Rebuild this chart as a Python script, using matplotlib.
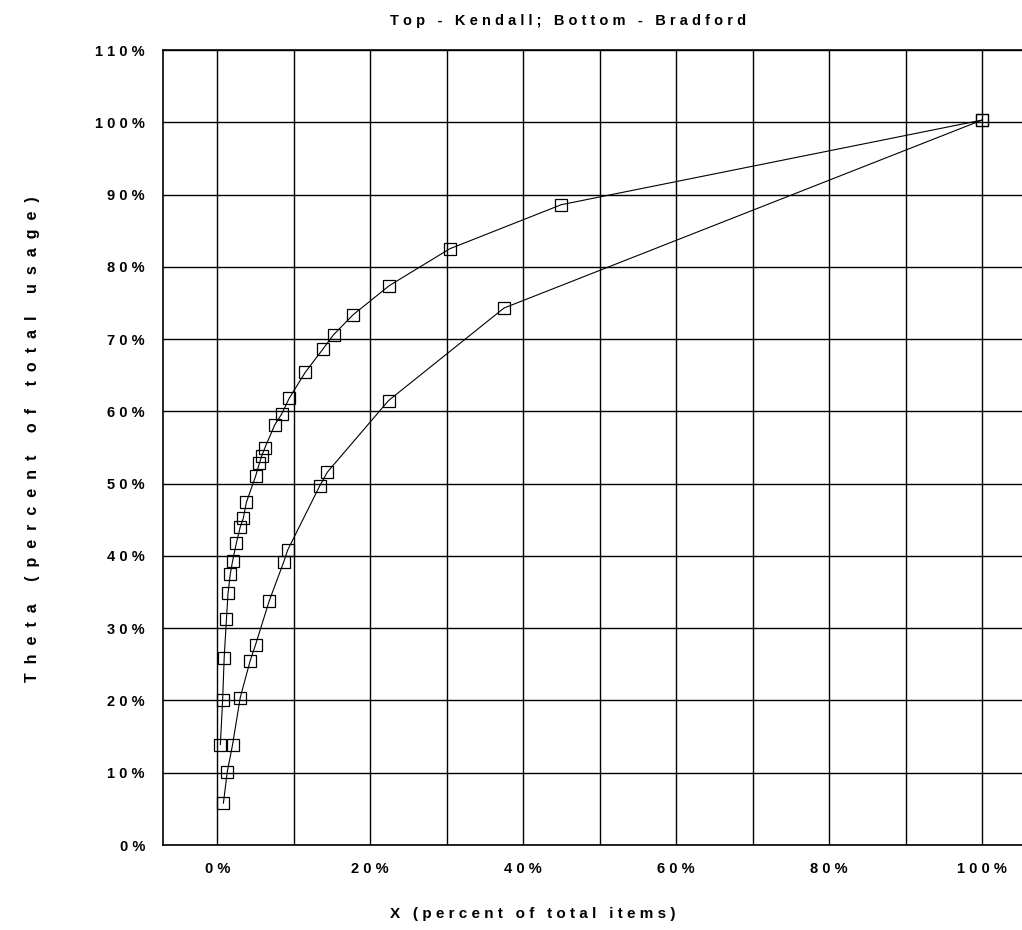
import matplotlib
matplotlib.use("Agg")
import matplotlib.pyplot as plt
from matplotlib import font_manager
import numpy as np

# cumulative share of items vs share of usage, in percent
kendall_x = [0.4, 0.7, 0.9, 1.2, 1.4, 1.7, 2.0, 2.5, 3.0, 3.4, 3.8, 5.0, 5.5, 5.8,
             6.2, 7.5, 8.4, 9.4, 11.5, 13.8, 15.2, 17.8, 22.5, 30.4, 45.0, 100.0]
kendall_y = [13.9, 20.1, 25.9, 31.3, 34.8, 37.5, 39.3, 41.8, 44.0, 45.2, 47.4, 51.0, 52.8, 53.8,
             54.9, 58.1, 59.6, 61.8, 65.4, 68.6, 70.6, 73.4, 77.4, 82.5, 88.6, 100.3]

bradford_x = [0.8, 1.3, 2.0, 3.0, 4.3, 5.0, 6.8, 8.7, 9.2, 13.4, 14.4, 22.4, 37.5, 100.0]
bradford_y = [5.8, 10.1, 13.9, 20.4, 25.5, 27.7, 33.8, 39.2, 40.8, 49.7, 51.6, 61.5, 74.3, 100.3]

x_ticks = np.arange(0, 101, 10)
x_labels = ["0%", "", "20%", "", "40%", "", "60%", "", "80%", "", "100%"]
y_ticks = np.arange(0, 111, 10)
y_labels = [f"{v}%" for v in y_ticks]

title = "Top - Kendall; Bottom - Bradford"
xlabel = "X (percent of total items)"
ylabel = "Theta (percent of total usage)"


def spaced(s, gap=" "):
    # wide letter spacing, like the old plotter font
    return gap.join(s)


names = {f.name for f in font_manager.fontManager.ttflist}
family = ["Liberation Sans Narrow", "DejaVu Sans"] if "Liberation Sans Narrow" in names \
    else ["Liberation Sans", "DejaVu Sans"]
plt.rcParams["font.family"] = family
plt.rcParams["font.weight"] = "bold"
plt.rcParams["axes.titleweight"] = "bold"
plt.rcParams["axes.labelweight"] = "bold"

fig = plt.figure(figsize=(10.22, 9.30), dpi=100)
ax = fig.add_axes([163 / 1022, 85 / 930, 1 - 163 / 1022 + 0.002, 795 / 930])

line_kw = dict(color="black", linewidth=0.8, marker="s", markersize=8.5,
               markerfacecolor="none", markeredgecolor="black", markeredgewidth=0.9)
ax.plot(kendall_x, kendall_y, **line_kw)
ax.plot(bradford_x, bradford_y, **line_kw)

ax.set_xlim(-7.1, 105.5)
ax.set_ylim(0, 109.7)
ax.set_xticks(x_ticks)
ax.set_xticklabels([spaced(t) for t in x_labels], fontsize=10.5)
ax.set_yticks(y_ticks)
ax.set_yticklabels([spaced(t) for t in y_labels], fontsize=10.5)
ax.tick_params(length=0)
ax.tick_params(axis="x", pad=12)
ax.tick_params(axis="y", pad=13)
ax.grid(True, color="black", linewidth=1.0)
for s in ax.spines.values():
    s.set_linewidth(1.2)

ax.set_title(spaced(title), fontsize=10.5, x=0.47, pad=18)
ax.set_xlabel(spaced(xlabel), fontsize=11)
ax.xaxis.set_label_coords(0.43, -0.078)
ax.set_ylabel(spaced(ylabel, "  "), fontsize=11.5)
ax.yaxis.set_label_coords(-0.143, 0.51)

fig.savefig("out.png", dpi=100, facecolor="white")
